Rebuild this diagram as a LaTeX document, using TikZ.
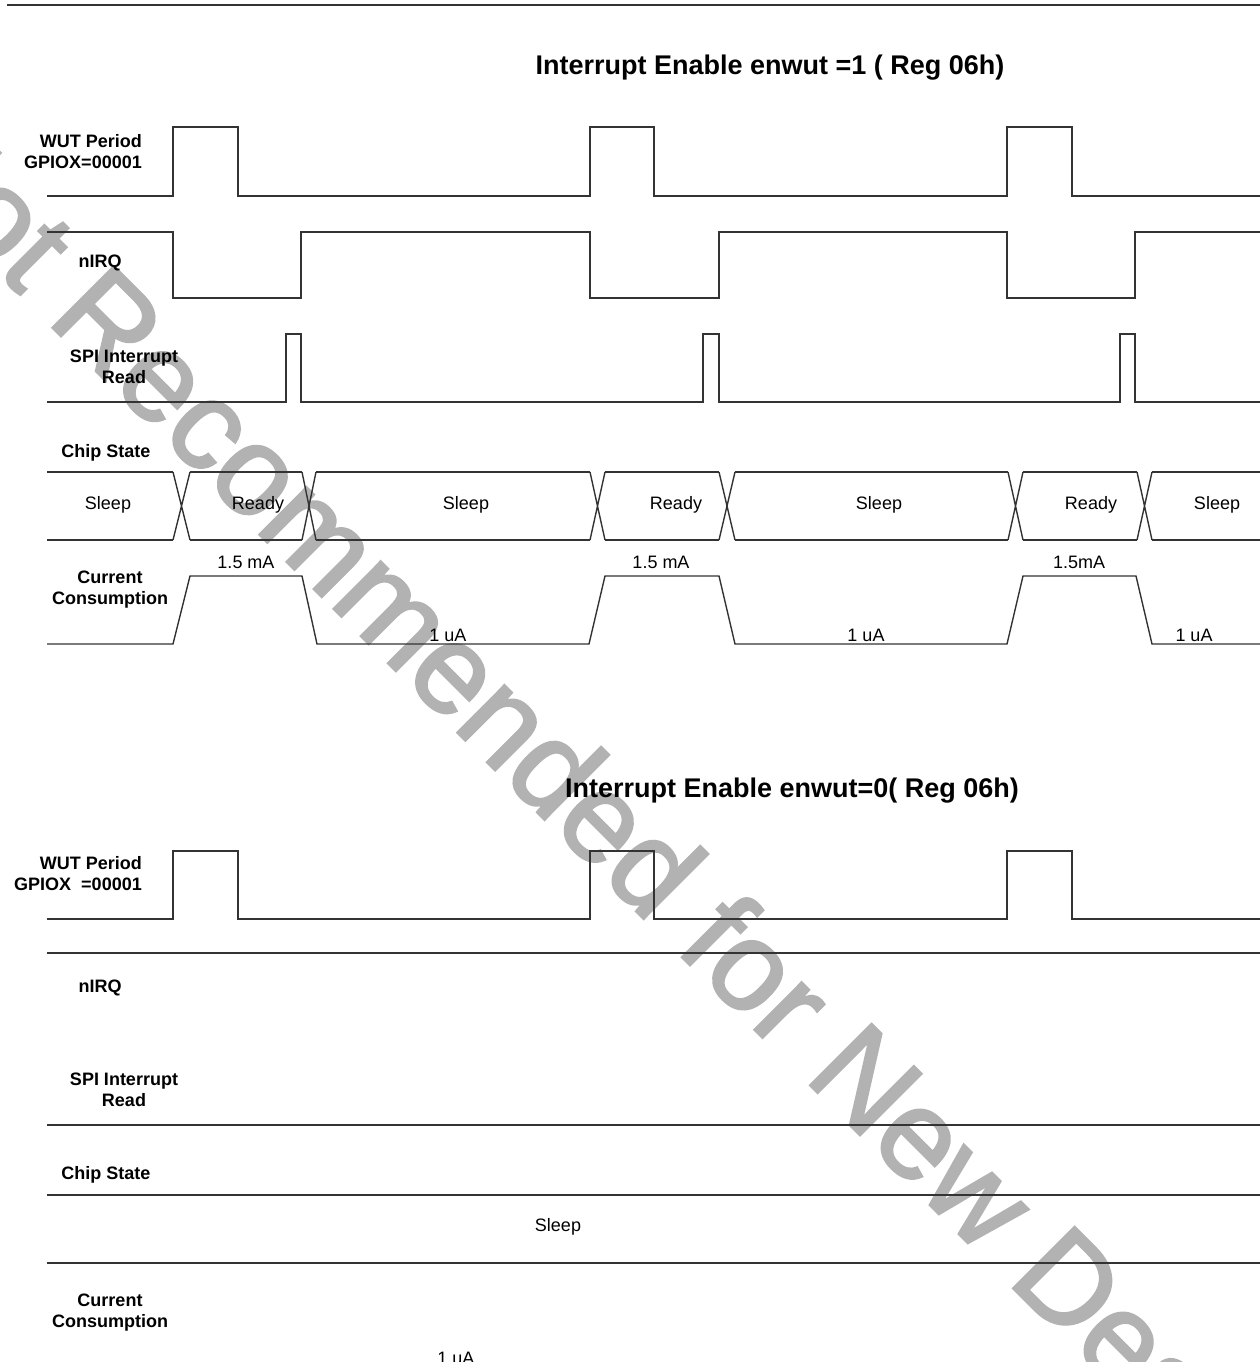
\documentclass[tikz,border=0pt]{standalone}
\usepackage{fontspec}
\setmainfont{Liberation Sans}
\newfontfamily\wmfont{Liberation Sans}[FakeBold=2]
\usepackage{tikz}
\usetikzlibrary{positioning}

\tikzset{
  wave/.style={line width=1.4pt, black!80},
  sig/.style={font=\bfseries\fontsize{18}{21}\selectfont, align=center, inner sep=0pt},
  val/.style={font=\fontsize{18}{21}\selectfont, inner sep=0pt},
  title/.style={font=\bfseries\fontsize{27}{31}\selectfont, inner sep=0pt},
}

\begin{document}
\begin{tikzpicture}[x=1pt, y=-1pt]
\useasboundingbox (0,0) rectangle (1260,1362);

% Watermark
\node[rotate=-45, anchor=base west, inner sep=0pt, text=black!30, font=\wmfont\fontsize{126}{126}\selectfont] (wm) at (-118,157) {Not Recommended for New Design};

% Top rule
\draw[line width=2pt, black!80] (7,5) -- (1260,5);

% ---------------- enwut = 1 ----------------
\node[title] (title1) at (770,68) {Interrupt Enable enwut =1 ( Reg 06h)};

% Signal names
\node[sig, align=right, anchor=east] (wut1) at (142,152) {WUT Period\\GPIOX=00001};
\node[sig] (irq1) at (100,263) {nIRQ};
\node[sig] (spi1) at (124,367) {SPI Interrupt\\Read};
\node[sig] (chip1) at (106,453) {Chip State};
\node[sig] (cur1) at (110,590) {Current\\Consumption};

% WUT period
\draw[wave] (47,196) -- (173,196) -- (173,127) -- (238,127) -- (238,196) -- (590,196) -- (590,127) -- (654,127) -- (654,196)
  -- (1007,196) -- (1007,127) -- (1072,127) -- (1072,196) -- (1260,196);

% nIRQ
\draw[wave] (47,232) -- (173,232) -- (173,298) -- (301,298) -- (301,232) -- (590,232) -- (590,298) -- (719,298) -- (719,232)
  -- (1007,232) -- (1007,298) -- (1135,298) -- (1135,232) -- (1260,232);

% SPI read
\draw[wave] (47,402) -- (286,402) -- (286,334) -- (301,334) -- (301,402) -- (703,402) -- (703,334) -- (719,334) -- (719,402)
  -- (1120,402) -- (1120,334) -- (1135,334) -- (1135,402) -- (1260,402);

% Chip state bus
\foreach \a/\b in {47/173,190/302,316/590,605/719,735/1008,1023/1137,1152/1260}
  \draw[wave] (\a,472) -- (\b,472) (\a,540) -- (\b,540);
\foreach \a/\b in {173/190,302/316,590/605,719/735,1008/1023,1137/1152}
  \draw[wave] (\a,472) -- (\b,540) (\a,540) -- (\b,472);

\node[val] (s1) at (108,505) {Sleep};
\node[val] (r1) at (258,505) {Ready};
\node[val] (s2) at (466,505) {Sleep};
\node[val] (r2) at (676,505) {Ready};
\node[val] (s3) at (879,505) {Sleep};
\node[val] (r3) at (1091,505) {Ready};
\node[val] (s4) at (1217,505) {Sleep};

% Current consumption
\draw[wave] (47,644) -- (173,644) -- (190,576) -- (302,576) -- (317,644) -- (589,644) -- (605,576) -- (719,576) -- (735,644)
  -- (1007,644) -- (1023,576) -- (1136,576) -- (1152,644) -- (1260,644);

\node[val] (hi1) at (246,562) {1.5 mA};
\node[val] (hi2) at (661,562) {1.5 mA};
\node[val] (hi3) at (1079,562) {1.5mA};
\node[val] (lo1) at (448,635) {1 uA};
\node[val] (lo2) at (866,635) {1 uA};
\node[val] (lo3) at (1194,635) {1 uA};

% ---------------- enwut = 0 ----------------
\node[title] (title2) at (792,791) {Interrupt Enable enwut=0( Reg 06h)};

% Signal names
\node[sig, align=right, anchor=east] (wut2) at (142,874) {WUT Period\\GPIOX\ \ =00001};
\node[sig] (irq2) at (100,988) {nIRQ};
\node[sig] (spi2) at (124,1090) {SPI Interrupt\\Read};
\node[sig] (chip2) at (106,1175) {Chip State};
\node[sig] (cur2) at (110,1313) {Current\\Consumption};

% WUT period
\draw[wave] (47,919) -- (173,919) -- (173,851) -- (238,851) -- (238,919) -- (590,919) -- (590,851) -- (654,851) -- (654,919)
  -- (1007,919) -- (1007,851) -- (1072,851) -- (1072,919) -- (1260,919);

% nIRQ, SPI read (idle)
\draw[wave] (47,953) -- (1260,953);
\draw[wave] (47,1125) -- (1260,1125);

% Chip state bus
\draw[wave] (47,1195) -- (1260,1195);
\draw[wave] (47,1263) -- (1260,1263);
\node[val] (s5) at (558,1227) {Sleep};

% Current consumption
\node[val] (lo4) at (456,1358) {1 uA};

\end{tikzpicture}
\end{document}
